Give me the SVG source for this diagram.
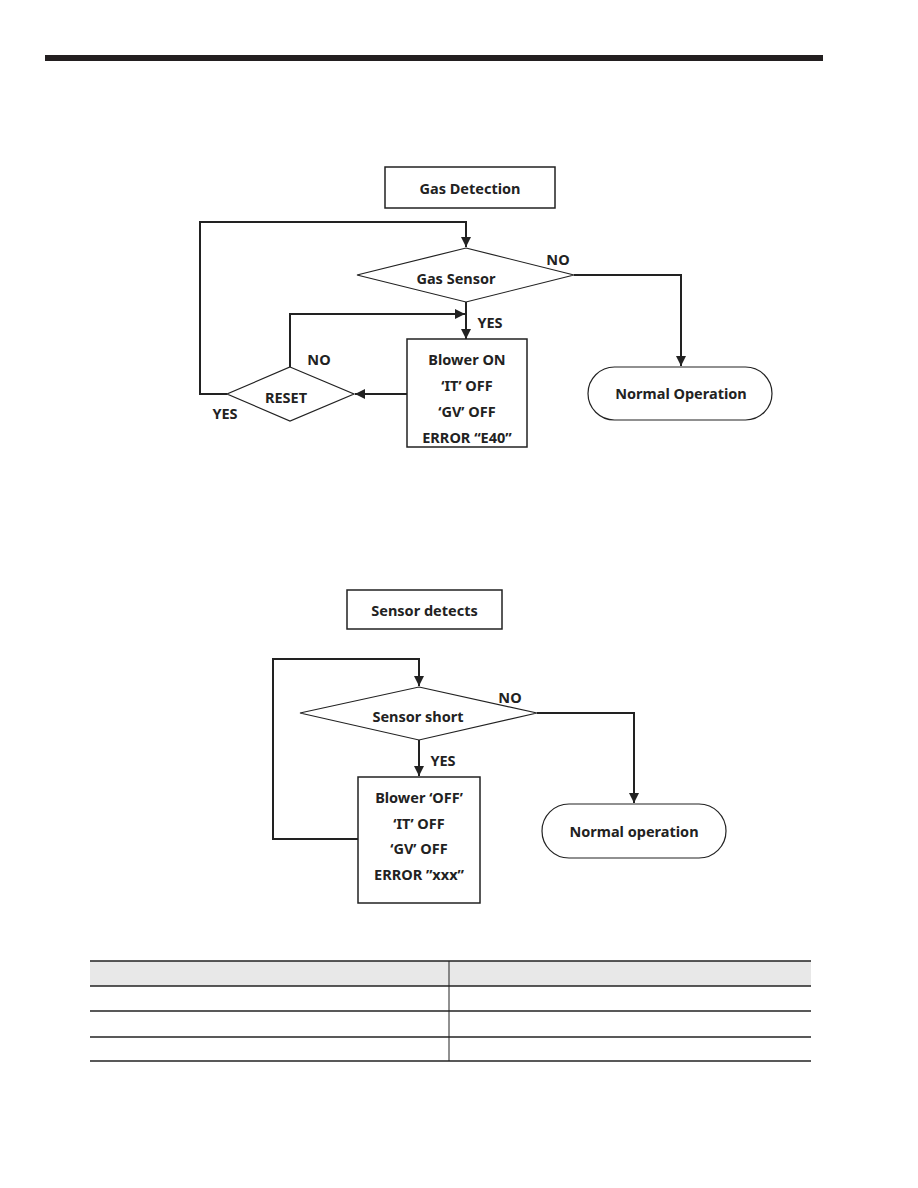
<svg xmlns="http://www.w3.org/2000/svg" width="918" height="1188" viewBox="0 0 918 1188">
<style>
text{font-family:"Noto Sans","Liberation Sans",sans-serif;font-weight:bold;font-size:14.5px;fill:#222;text-anchor:middle;dominant-baseline:central}
.box{fill:#fff;stroke:#222;stroke-width:1.5}
.dia{fill:#fff;stroke:#222;stroke-width:1.2}
.term{fill:#fff;stroke:#222;stroke-width:1.2}
.con{fill:none;stroke:#222;stroke-width:2}
.tl{stroke:#222;stroke-width:1.5}
</style>
<defs>
<marker id="ah" viewBox="0 0 10 10" refX="10" refY="5" markerWidth="5" markerHeight="5" orient="auto" markerUnits="strokeWidth">
<path d="M0,0 L10,5 L0,10 z" fill="#222"/>
</marker>
</defs>
<rect x="45" y="55" width="778" height="6" fill="#231f20"/>

<g id="connectors">
<path class="con" d="M227,394 H200 V222 H466 V247" marker-end="url(#ah)"/>
<path class="con" d="M574,275 H681 V366" marker-end="url(#ah)"/>
<path class="con" d="M466,302 V339" marker-end="url(#ah)"/>
<path class="con" d="M407,394 H355" marker-end="url(#ah)"/>
<path class="con" d="M290,367 V314 H465" marker-end="url(#ah)"/>
<path class="con" d="M358,839 H273 V659 H419 V686" marker-end="url(#ah)"/>
<path class="con" d="M537,713 H634 V803" marker-end="url(#ah)"/>
<path class="con" d="M419,740 V776" marker-end="url(#ah)"/>
</g>

<g id="gas-detection">
<rect class="box" x="385" y="167" width="170" height="41"/>
<text x="470" y="187.5">Gas Detection</text>
</g>
<g id="gas-sensor">
<polygon class="dia" points="466,248 574,275 466,302 357,275"/>
<text x="456" y="278">Gas Sensor</text>
</g>
<g id="blower-on">
<rect class="box" x="407" y="339" width="120" height="108"/>
<text x="467" y="359">Blower ON</text>
<text x="467" y="385">‘IT’ OFF</text>
<text x="467" y="411">‘GV’ OFF</text>
<text x="467" y="437">ERROR “E40”</text>
</g>
<g id="reset">
<polygon class="dia" points="290,367 354,394 290,421 227,394"/>
<text x="286" y="397">RESET</text>
</g>
<g id="normal-operation">
<rect class="term" x="588" y="367" width="184" height="53" rx="26.5"/>
<text x="681" y="393">Normal Operation</text>
</g>
<g id="labels1">
<text x="558" y="259">NO</text>
<text x="490" y="322">YES</text>
<text x="319" y="359">NO</text>
<text x="225" y="413">YES</text>
</g>

<g id="sensor-detects">
<rect class="box" x="347" y="590" width="155" height="39"/>
<text x="424.5" y="610">Sensor detects</text>
</g>
<g id="sensor-short">
<polygon class="dia" points="419,687 537,713 419,740 300,713"/>
<text x="418" y="716">Sensor short</text>
</g>
<g id="blower-off">
<rect class="box" x="358" y="777" width="122" height="126"/>
<text x="419" y="797">Blower ‘OFF’</text>
<text x="419" y="823">‘IT’ OFF</text>
<text x="419" y="848">‘GV’ OFF</text>
<text x="419" y="874">ERROR ”xxx”</text>
</g>
<g id="normal-operation-2">
<rect class="term" x="542" y="804" width="184" height="54" rx="27"/>
<text x="634" y="831">Normal operation</text>
</g>
<g id="labels2">
<text x="510" y="697">NO</text>
<text x="443" y="760">YES</text>
</g>

<g id="table">
<rect x="90" y="961" width="721" height="25" fill="#e8e8e8"/>
<line class="tl" x1="90" y1="961" x2="811" y2="961"/>
<line class="tl" x1="90" y1="986" x2="811" y2="986"/>
<line class="tl" x1="90" y1="1011" x2="811" y2="1011"/>
<line class="tl" x1="90" y1="1037" x2="811" y2="1037"/>
<line class="tl" x1="90" y1="1061" x2="811" y2="1061"/>
<line x1="449" y1="961" x2="449" y2="1061" stroke="#222" stroke-width="1"/>
</g>
</svg>
